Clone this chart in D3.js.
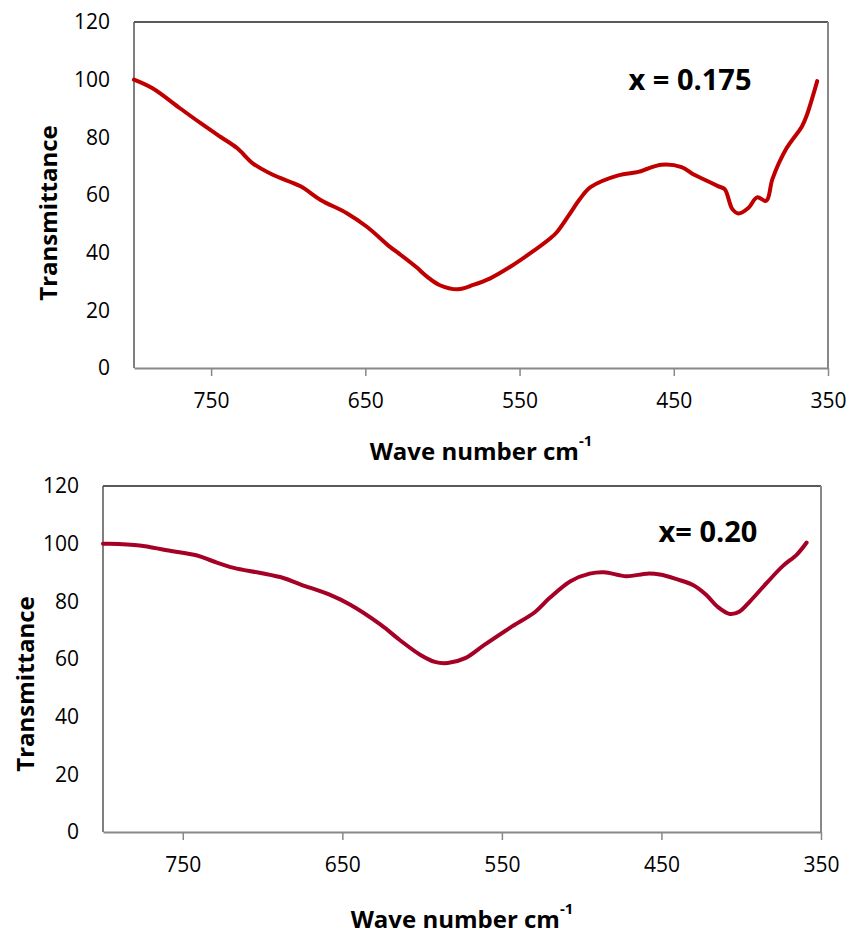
<!DOCTYPE html>
<html>
<head>
<meta charset="utf-8">
<script src="https://cdn.jsdelivr.net/npm/d3@7"></script>
<style>
  body { margin: 0; background: #fff; }
</style>
</head>
<body>
<div id="chart"></div>
<script>
// values
const wave175 = [800, 788, 770, 757, 744, 733, 723, 710, 692, 679, 662, 649, 634, 627, 617, 610, 602, 590, 580, 569, 556, 543, 530, 526, 518, 511, 504, 486, 473, 467, 458, 445, 438, 430, 421, 417, 412, 408, 401.5, 396, 390, 386, 377, 367, 364, 357];
const trans175 = [100, 97, 90, 85, 80.2, 76.2, 71, 67, 63, 58.3, 53.7, 49, 42, 39.2, 35, 31.7, 28.8, 27.3, 28.8, 31.1, 35.1, 39.8, 45, 47, 53, 58.5, 62.7, 66.8, 68, 69.1, 70.5, 69.7, 67.4, 65.3, 63, 62, 55.1, 53.6, 55.6, 59.2, 58, 65.6, 76.1, 83.7, 87.3, 99.5];

const wave20 = [800, 797, 777, 760, 741, 731, 718, 702, 687, 676, 658, 645, 626, 614, 601, 592, 584, 573, 561, 545, 529, 520, 507, 495, 486, 472, 459, 451, 440, 430, 422, 415, 407, 401, 394.5, 384, 374, 365, 359];
const trans20 = [100, 100, 99.4, 97.7, 95.9, 93.9, 91.6, 89.9, 88.1, 85.8, 82.3, 78.8, 71.9, 66.6, 61.4, 59, 58.6, 60.3, 64.9, 70.8, 76.4, 81.2, 87, 89.6, 90.1, 88.7, 89.6, 89.3, 87.6, 85.6, 82.3, 78.2, 75.6, 76.5, 80, 86.4, 92.2, 96.3, 100.4];

const xTicks = [750, 650, 550, 450, 350];
const yTicks = [0, 20, 40, 60, 80, 100, 120];

const svg = d3.select("#chart")
    .append("svg")
    .attr("width", 847)
    .attr("height", 936);

function panel(opts) {
    const x = d3.scaleLinear().domain([800, 350]).range([opts.left, opts.right]);
    const y = d3.scaleLinear().domain([0, 120]).range([opts.bottom, opts.top]);
    const g = svg.append("g");

    // plot frame
    g.append("line").attr("x1", opts.left).attr("x2", opts.right)
        .attr("y1", opts.top).attr("y2", opts.top)
        .attr("stroke", "#222").attr("stroke-width", 1.5);
    g.append("line").attr("x1", opts.left).attr("x2", opts.left)
        .attr("y1", opts.top).attr("y2", opts.bottom)
        .attr("stroke", "#555").attr("stroke-width", 1.5);
    g.append("line").attr("x1", opts.right).attr("x2", opts.right)
        .attr("y1", opts.top).attr("y2", opts.bottom)
        .attr("stroke", "#888").attr("stroke-width", 2);

    // x axis
    const xa = g.append("g")
        .attr("transform", `translate(0,${opts.bottom})`)
        .call(d3.axisBottom(x).tickValues(xTicks).tickSize(8).tickPadding(17).tickSizeOuter(0));
    xa.select(".domain").attr("stroke", "#888").attr("stroke-width", 2);
    xa.selectAll(".tick line").attr("stroke", "#888").attr("stroke-width", 1.5);
    xa.selectAll("text").attr("font-family", "Open Sans").attr("font-size", "21px").attr("fill", "#000");

    // y axis
    const ya = g.append("g")
        .attr("transform", `translate(${opts.left},0)`)
        .call(d3.axisLeft(y).tickValues(yTicks).tickSize(0).tickPadding(24));
    ya.select(".domain").remove();
    ya.selectAll("text").attr("font-family", "Open Sans").attr("font-size", "21px").attr("fill", "#000");

    // axis titles
    const xt = g.append("text")
        .attr("x", (opts.left + opts.right) / 2)
        .attr("y", opts.xTitleY)
        .attr("text-anchor", "middle")
        .attr("dominant-baseline", "central")
        .attr("font-family", "Open Sans").attr("font-weight", "bold").attr("font-size", "24px")
        .text("Wave number cm");
    xt.append("tspan").attr("baseline-shift", "super").attr("font-size", "15px").text("-1");

    g.append("text")
        .attr("transform", `translate(${opts.yTitleX},${opts.yTitleY}) rotate(-90)`)
        .attr("text-anchor", "middle")
        .attr("dominant-baseline", "central")
        .attr("font-family", "Open Sans").attr("font-weight", "bold").attr("font-size", "24px")
        .text("Transmittance");

    // sample label
    g.append("text")
        .attr("x", opts.labelX).attr("y", opts.labelY)
        .attr("text-anchor", "middle")
        .attr("dominant-baseline", "central")
        .attr("font-family", "Open Sans").attr("font-weight", "bold").attr("font-size", "29px")
        .text(opts.label);

    // spectrum
    const pts = opts.wave.map((w, i) => [w, opts.trans[i]]);
    g.append("path")
        .datum(pts)
        .attr("fill", "none")
        .attr("stroke", opts.color)
        .attr("stroke-width", 4)
        .attr("stroke-linejoin", "round")
        .attr("stroke-linecap", "round")
        .attr("d", d3.line()
            .x(d => x(d[0]))
            .y(d => y(d[1]))
            .curve(d3.curveCatmullRom.alpha(0.5)));
}

panel({
    left: 134, right: 828, top: 22, bottom: 368,
    wave: wave175, trans: trans175, color: "#C00000",
    label: "x = 0.175", labelX: 690, labelY: 78,
    xTitleY: 450, yTitleX: 47, yTitleY: 213
});

panel({
    left: 103, right: 821, top: 486, bottom: 832,
    wave: wave20, trans: trans20, color: "#A50026",
    label: "x= 0.20", labelX: 708, labelY: 530,
    xTitleY: 918, yTitleX: 24, yTitleY: 684
});
</script>
</body>
</html>
